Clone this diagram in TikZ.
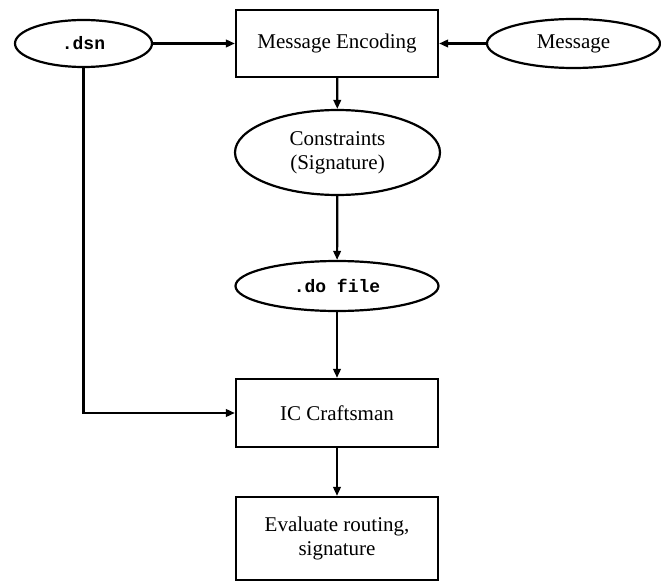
\documentclass[tikz,border=0pt]{standalone}
\usepackage{fontspec}
\setmainfont{Liberation Serif}
\setmonofont{Liberation Mono}
\usetikzlibrary{shapes.geometric,arrows.meta}
\begin{document}
\begin{tikzpicture}[x=1pt,y=-1pt, line width=2.2pt,
  every node/.style={font=\fontsize{21}{24}\selectfont, inner sep=0pt, align=center},
  box/.style={draw, rectangle, minimum width=202pt},
  oval/.style={draw, ellipse},
  mono/.style={font=\fontsize{18}{20}\selectfont\ttfamily\bfseries},
  conn/.style={-{Triangle[length=9pt,width=7.5pt]}}
]
\useasboundingbox (0,0) rectangle (661,583);
\node[box, minimum height=67pt] (enc) at (337,43.5) {Message Encoding};
\node[oval, mono, minimum width=137pt, minimum height=47pt] (dsn) at (83.5,43.5) {.dsn};
\node[oval, minimum width=173pt, minimum height=49pt] (msg) at (573.5,43.5) {Message};
\node[oval, minimum width=205pt, minimum height=85pt] (con) at (337.5,152.5) {Constraints\\(Signature)};
\node[oval, mono, minimum width=203pt, minimum height=50pt] (do) at (337,286) {.do file};
\node[box, minimum height=68pt] (ic) at (337,413) {IC Craftsman};
\node[box, minimum height=83pt] (ev) at (337,538.5) {Evaluate routing,\\signature};
\draw[conn] (dsn) -- (enc);
\draw[conn] (msg) -- (enc);
\draw[conn] (enc) -- (con);
\draw[conn] (con) -- (do);
\draw[conn] (do) -- (ic);
\draw[conn] (ic) -- (ev);
\draw[conn] (dsn.south) |- (ic.west);
\end{tikzpicture}
\end{document}
